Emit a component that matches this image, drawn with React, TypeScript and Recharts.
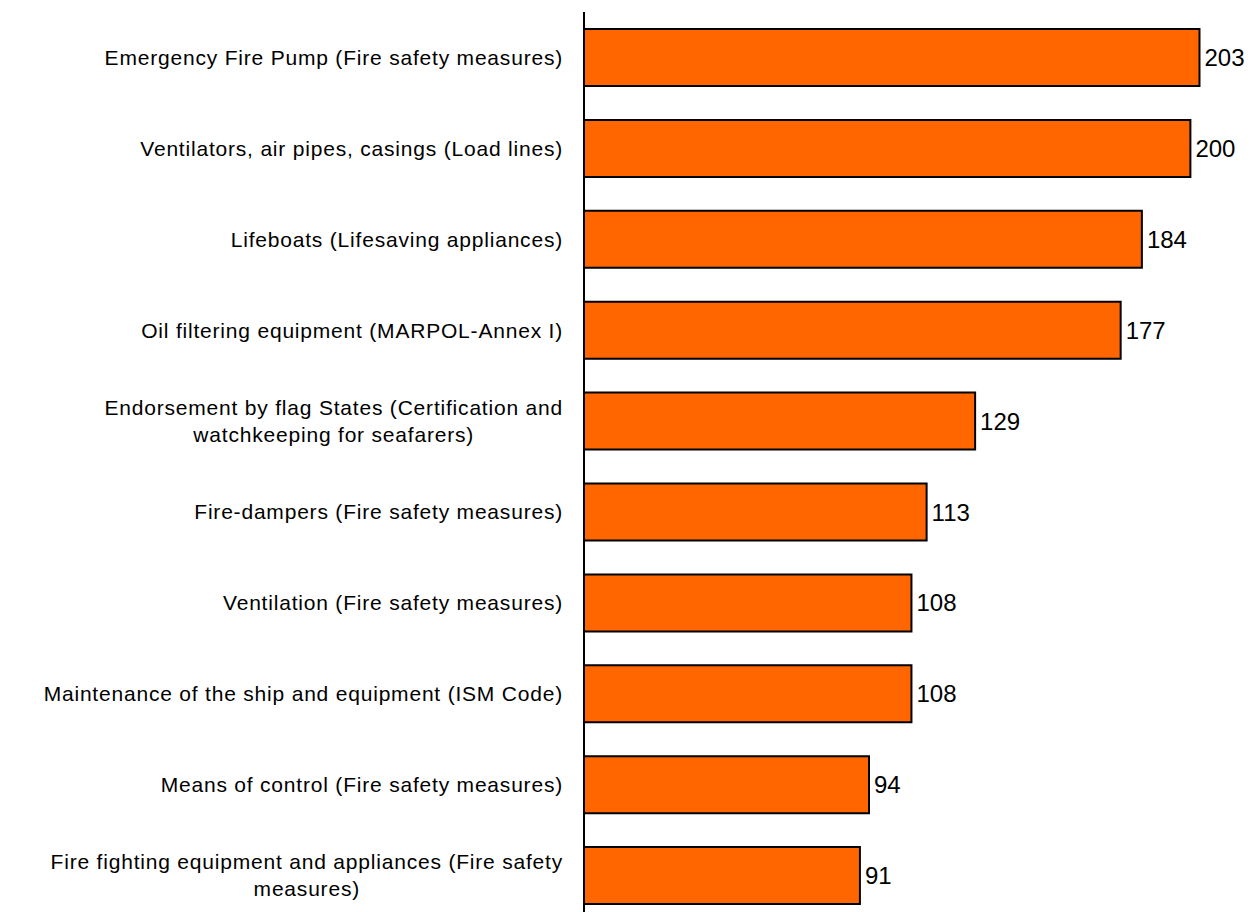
import React from "react";
import { BarChart, Bar, XAxis, YAxis, LabelList } from "recharts";

const categories = [
  "Emergency Fire Pump (Fire safety measures)",
  "Ventilators, air pipes, casings (Load lines)",
  "Lifeboats (Lifesaving appliances)",
  "Oil filtering equipment (MARPOL-Annex I)",
  "Endorsement by flag States (Certification and watchkeeping for seafarers)",
  "Fire-dampers (Fire safety measures)",
  "Ventilation (Fire safety measures)",
  "Maintenance of the ship and equipment (ISM Code)",
  "Means of control (Fire safety measures)",
  "Fire fighting equipment and appliances (Fire safety measures)",
];

const tickLines: string[][] = [
  ["Emergency Fire Pump (Fire safety measures)"],
  ["Ventilators, air pipes, casings (Load lines)"],
  ["Lifeboats (Lifesaving appliances)"],
  ["Oil filtering equipment (MARPOL-Annex I)"],
  ["Endorsement by flag States (Certification and", "watchkeeping for seafarers)"],
  ["Fire-dampers (Fire safety measures)"],
  ["Ventilation (Fire safety measures)"],
  ["Maintenance of the ship and equipment (ISM Code)"],
  ["Means of control (Fire safety measures)"],
  ["Fire fighting equipment and appliances (Fire safety", "measures)"],
];

const values = [203, 200, 184, 177, 129, 113, 108, 108, 94, 91];

const data = categories.map((name, i) => ({ name, value: values[i] }));

const FONT = '"Liberation Sans", Arial, sans-serif';
const LABEL_SIZE = 21;
const LETTER = 0.8;

let ctx: CanvasRenderingContext2D | null = null;
function measure(text: string): number {
  if (!ctx) {
    const c = document.createElement("canvas");
    ctx = c.getContext("2d");
  }
  if (!ctx) return text.length * LABEL_SIZE * 0.5;
  ctx.font = `${LABEL_SIZE}px "Liberation Sans"`;
  return ctx.measureText(text).width + LETTER * text.length;
}

const CustomTick = (props: any) => {
  const { x, y, payload } = props;
  const idx = categories.indexOf(payload.value);
  const lines = idx >= 0 ? tickLines[idx] : [String(payload.value)];
  const right = x - 13;
  const widths = lines.map(measure);
  const maxW = Math.max(...widths);
  const cx = right - maxW / 2;
  const lh = 27;
  const startY = y - ((lines.length - 1) * lh) / 2;
  return (
    <g>
      {lines.map((l, i) => (
        <text
          key={i}
          x={lines.length === 1 ? right : cx}
          y={startY + i * lh}
          dy="0.35em"
          textAnchor={lines.length === 1 ? "end" : "middle"}
          fontFamily={FONT}
          fontSize={LABEL_SIZE}
          letterSpacing={LETTER}
          fill="#000"
        >
          {l}
        </text>
      ))}
    </g>
  );
};

export default function App() {
  return (
    <div style={{ width: 1240, height: 904, overflow: "hidden", fontFamily: FONT }}>
      <style>{"html, body { overflow: hidden; }"}</style>
      <BarChart
        width={1240}
        height={920}
        data={data}
        layout="vertical"
        margin={{ top: 4, right: 0, bottom: 7, left: 0 }}
      >
        <XAxis type="number" domain={[0, 219]} hide />
        <YAxis
          type="category"
          dataKey="name"
          width={576}
          axisLine={{ stroke: "#000", strokeWidth: 2 }}
          tickLine={false}
          tick={<CustomTick />}
          interval={0}
        />
        <Bar
          dataKey="value"
          fill="#FF6600"
          stroke="#000"
          strokeWidth={2}
          barSize={57}
          isAnimationActive={false}
        >
          <LabelList
            dataKey="value"
            position="right"
            offset={5}
            fill="#000"
            fontSize={24}
            fontFamily={FONT}
          />
        </Bar>
      </BarChart>
    </div>
  );
}
